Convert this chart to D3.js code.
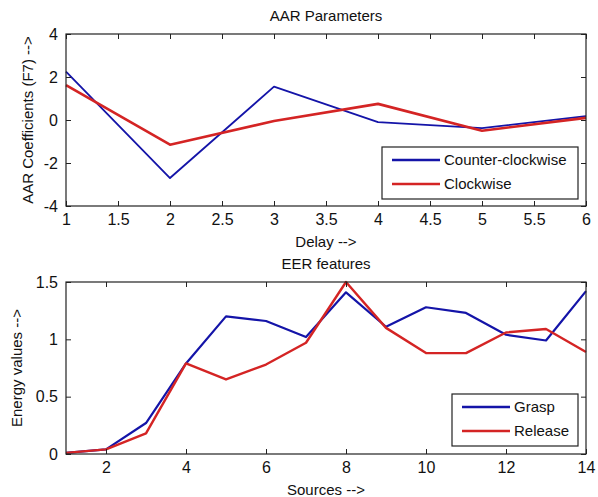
<!DOCTYPE html>
<html>
<head>
<meta charset="utf-8">
<script src="https://cdn.jsdelivr.net/npm/d3@7"></script>
<style>
  body { margin: 0; background: #fff; }
  text { font-family: Arial, "Liberation Sans", sans-serif; fill: #111; }
</style>
</head>
<body>
<main></main>
<script>
// top panel: AAR coefficients vs delay
const delay = [1, 2, 3, 4, 5, 6];
const counterClockwise = [2.25, -2.7, 1.55, -0.1, -0.38, 0.18];
const clockwise = [1.62, -1.15, -0.05, 0.75, -0.5, 0.1];
const delayTicks = [1, 1.5, 2, 2.5, 3, 3.5, 4, 4.5, 5, 5.5, 6];
const aarTicks = [-4, -2, 0, 2, 4];

// bottom panel: EER energy vs source
const sources = [1, 2, 3, 4, 5, 6, 7, 8, 9, 10, 11, 12, 13, 14];
const grasp = [0.01, 0.04, 0.27, 0.79, 1.2, 1.16, 1.02, 1.41, 1.11, 1.28, 1.23, 1.04, 0.99, 1.42];
const release = [0.01, 0.04, 0.18, 0.79, 0.65, 0.78, 0.97, 1.5, 1.1, 0.88, 0.88, 1.06, 1.09, 0.89];
const sourceTicks = [2, 4, 6, 8, 10, 12, 14];
const energyTicks = [0, 0.5, 1, 1.5];

const w = 598, h = 497;
const blue = "#1414a8", red = "#d42424";

const svg = d3.select("main").append("svg")
  .attr("width", w).attr("height", h);

function panel(opt) {
  const x = d3.scaleLinear().domain(opt.xDomain).range([66, 586]);
  const y = d3.scaleLinear().domain(opt.yDomain).range([opt.bottom, opt.top]);
  const g = svg.append("g");

  const line = d3.line().x(d => x(d[0])).y(d => y(d[1]));
  opt.series.forEach(s => {
    g.append("path")
      .datum(opt.xs.map((v, i) => [v, s.values[i]]))
      .attr("d", line)
      .attr("fill", "none")
      .attr("stroke", s.color)
      .attr("stroke-width", s.width)
      .attr("stroke-linejoin", "round");
  });

  // inward ticks on all four sides, plain labels like matlab
  const tick = 5;
  const fmt = d => String(d);
  g.append("g").attr("transform", `translate(0,${opt.bottom})`)
    .call(d3.axisBottom(x).tickValues(opt.xTicks).tickSizeInner(-tick).tickSizeOuter(0).tickPadding(8).tickFormat(fmt));
  g.append("g").attr("transform", `translate(0,${opt.top})`)
    .call(d3.axisTop(x).tickValues(opt.xTicks).tickSizeInner(-tick).tickSizeOuter(0).tickFormat(""));
  g.append("g").attr("transform", "translate(66,0)")
    .call(d3.axisLeft(y).tickValues(opt.yTicks).tickSizeInner(-tick).tickSizeOuter(0).tickPadding(8).tickFormat(fmt));
  g.append("g").attr("transform", "translate(586,0)")
    .call(d3.axisRight(y).tickValues(opt.yTicks).tickSizeInner(-tick).tickSizeOuter(0).tickFormat(""));
  g.selectAll(".domain").remove();
  g.selectAll(".tick line").attr("stroke", "#222");
  g.selectAll(".tick text").style("font-size", "16px").attr("fill", "#111")
    .style("font-family", "Arial, 'Liberation Sans', sans-serif");

  g.append("rect")
    .attr("x", 66).attr("y", opt.top)
    .attr("width", 520).attr("height", opt.bottom - opt.top)
    .attr("fill", "none").attr("stroke", "#222").attr("stroke-width", 1.2);

  g.append("text").attr("x", 326).attr("y", opt.top - 13)
    .attr("text-anchor", "middle").style("font-size", "15px").text(opt.title);
  g.append("text").attr("x", 326).attr("y", opt.bottom + 41)
    .attr("text-anchor", "middle").style("font-size", "15px").text(opt.xLabel);
  g.append("text")
    .attr("transform", `translate(${opt.yLabelX},${(opt.top + opt.bottom) / 2})rotate(-90)`)
    .attr("text-anchor", "middle").style("font-size", "15px").text(opt.yLabel);

  // legend
  const lg = g.append("g").attr("transform", `translate(${opt.legend[0]},${opt.legend[1]})`);
  lg.append("rect").attr("width", opt.legend[2]).attr("height", 52)
    .attr("fill", "#fff").attr("stroke", "#222").attr("stroke-width", 1.2);
  opt.series.forEach((s, i) => {
    lg.append("line").attr("x1", 10).attr("x2", 58)
      .attr("y1", 13 + i * 24).attr("y2", 13 + i * 24)
      .attr("stroke", s.color).attr("stroke-width", 2.5);
    lg.append("text").attr("x", 62).attr("y", 18 + i * 24)
      .style("font-size", "15px").text(s.name);
  });
}

panel({
  xs: delay, xDomain: [1, 6], yDomain: [-4, 4],
  xTicks: delayTicks, yTicks: aarTicks,
  top: 34, bottom: 206,
  title: "AAR Parameters", xLabel: "Delay -->", yLabel: "AAR Coefficients (F7) -->", yLabelX: 33,
  legend: [382, 147, 196],
  series: [
    { name: "Counter-clockwise", values: counterClockwise, color: blue, width: 1.8 },
    { name: "Clockwise", values: clockwise, color: red, width: 2.6 }
  ]
});

panel({
  xs: sources, xDomain: [1, 14], yDomain: [0, 1.5],
  xTicks: sourceTicks, yTicks: energyTicks,
  top: 282, bottom: 454,
  title: "EER features", xLabel: "Sources -->", yLabel: "Energy values -->", yLabelX: 22,
  legend: [452, 394, 126],
  series: [
    { name: "Grasp", values: grasp, color: blue, width: 2.2 },
    { name: "Release", values: release, color: red, width: 2.4 }
  ]
});
</script>
</body>
</html>
